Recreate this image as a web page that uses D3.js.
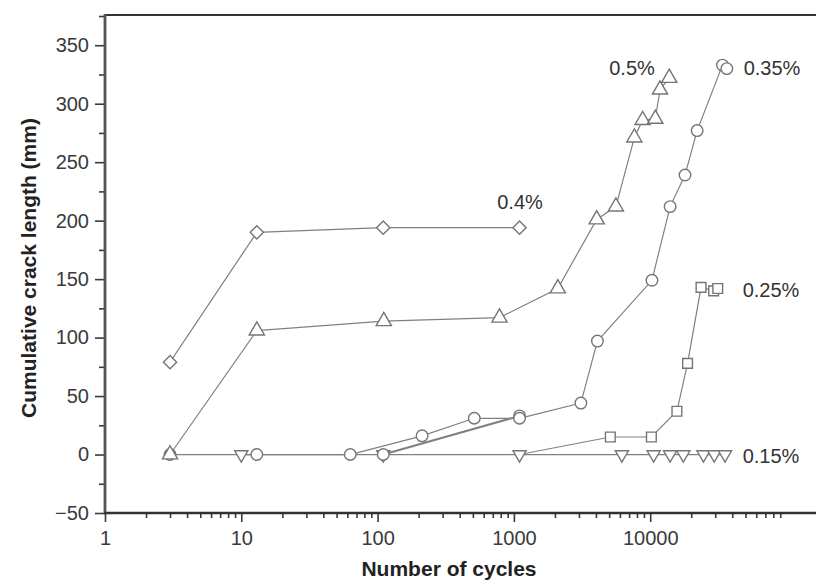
<!DOCTYPE html>
<html><head><meta charset="utf-8">
<script src="https://cdn.jsdelivr.net/npm/d3@7"></script>
<style>body{margin:0;background:#fff}svg{display:block}</style></head>
<body>
<svg id="c" width="816" height="584"></svg>
<script>
// ---- data ----
const strainLabels = ["0.4%", "0.5%", "0.35%", "0.25%", "0.15%"];

const cycles04 = [3, 13, 110, 1100];
const crack04  = [79, 190, 194, 194];

const cycles05 = [3, 13, 111, 784, 2100, 4050, 5600, 7650, 8800, 10900, 11800, 13800];
const crack05  = [0, 106, 114, 117, 142, 201, 212, 271, 286, 287, 312, 322];

const cycles035 = [3, 13, 63, 212, 512, 1100, 3100, 4100, 10300, 14000, 18000, 22100, 33900, 36500];
const crack035  = [0, 0, 0, 16, 31, 31, 44, 97, 149, 212, 239, 277, 333, 330];

const cycles035b = [110, 1100];
const crack035b  = [0, 33];

const cycles025 = [1100, 5100, 10200, 15700, 18800, 23600, 29200, 31300];
const crack025  = [0, 15, 15, 37, 78, 143, 140, 142];

const cycles015 = [10, 110, 1100, 6200, 10600, 14000, 17500, 24600, 29500, 35400];
const crack015  = [0, 0, 0, 0, 0, 0, 0, 0, 0, 0];

const yTickValues = [-50, 0, 50, 100, 150, 200, 250, 300, 350];
const xTickValues = [1, 10, 100, 1000, 10000];

// ---- layout ----
const svg = d3.select("#c");
const X0 = 105, XEND = 816, YTOP = 15;
const x = d3.scaleLog().domain([1, 1e5]).range([X0, X0 + 5 * 136.3]);
const y = d3.scaleLinear().domain([-50, 375]).range([513, 16]);

const lineCol = "#808080", markCol = "#757575", axisCol = "#3a3a3a";
const font = "'Liberation Sans', Arial, sans-serif";

// frame top line
svg.append("line").attr("x1", X0).attr("x2", XEND).attr("y1", YTOP).attr("y2", YTOP)
  .attr("stroke", "#333").attr("stroke-width", 2.2);

// y axis
const yAxis = d3.axisLeft(y).tickValues(yTickValues).tickSize(10).tickPadding(6)
  .tickFormat(d => d < 0 ? "\u2212" + Math.abs(d) : d);
const gy = svg.append("g").attr("transform", `translate(${X0},0)`).call(yAxis);
gy.select(".domain").remove();
gy.selectAll(".tick line").attr("stroke", axisCol).attr("stroke-width", 1.6);
gy.selectAll(".tick text").attr("font-family", font).attr("font-size", 20).attr("fill", "#3a3a3a");
const yMinor = d3.axisLeft(y).tickValues(d3.range(-25, 376, 50)).tickSize(6).tickFormat("");
const gym = svg.append("g").attr("transform", `translate(${X0},0)`).call(yMinor);
gym.select(".domain").remove();
gym.selectAll(".tick line").attr("stroke", axisCol).attr("stroke-width", 1.6);
svg.append("line").attr("x1", X0).attr("x2", X0).attr("y1", YTOP - 1).attr("y2", y(-50) + 1)
  .attr("stroke", "#555").attr("stroke-width", 2.8);

// x axis
const xAxis = d3.axisBottom(x).tickValues(xTickValues).tickSize(9).tickPadding(9)
  .tickFormat(d3.format("d"));
const gx = svg.append("g").attr("transform", `translate(0,${y(-50)})`).call(xAxis);
gx.select(".domain").remove();
gx.selectAll(".tick line").attr("stroke", axisCol).attr("stroke-width", 1.6);
gx.selectAll(".tick text").attr("font-family", font).attr("font-size", 20).attr("fill", "#3a3a3a");
const minorX = [];
for (let e = 0; e < 5; e++) for (let k = 2; k <= 9; k++) minorX.push(k * Math.pow(10, e));
const gxm = svg.append("g").attr("transform", `translate(0,${y(-50)})`)
  .call(d3.axisBottom(x).tickValues(minorX).tickSize(5).tickFormat(""));
gxm.select(".domain").remove();
gxm.selectAll(".tick line").attr("stroke", axisCol).attr("stroke-width", 1.6);
svg.append("line").attr("x1", X0 - 1).attr("x2", XEND).attr("y1", y(-50)).attr("y2", y(-50))
  .attr("stroke", "#333").attr("stroke-width", 2.4);

// axis titles
svg.append("text").attr("x", 449).attr("y", 576).attr("text-anchor", "middle")
  .attr("font-family", font).attr("font-weight", "bold").attr("font-size", 21).attr("fill", "#222")
  .text("Number of cycles");
svg.append("text").attr("transform", "translate(36,268) rotate(-90)").attr("text-anchor", "middle")
  .attr("font-family", font).attr("font-weight", "bold").attr("font-size", 21).attr("fill", "#222")
  .text("Cumulative crack length (mm)");

// series
const zip = (a, b) => a.map((v, i) => [v, b[i]]);
const series = [
  { pts: zip(cycles015, crack015), shape: "tri-down", from: 0, width: 1.2 },
  { pts: zip(cycles025, crack025), shape: "square", from: 1, width: 1.2 },
  { pts: zip(cycles035b, crack035b), shape: "circle", from: 0, width: 2.0 },
  { pts: zip(cycles035, crack035), shape: "circle", from: 0, width: 1.2 },
  { pts: zip(cycles05, crack05), shape: "tri-up", from: 0, width: 1.2 },
  { pts: zip(cycles04, crack04), shape: "diamond", from: 0, width: 1.2 }
];
const line = d3.line().x(d => x(d[0])).y(d => y(d[1]));
series.forEach(s => {
  svg.append("path").datum(s.pts).attr("d", line).attr("fill", "none")
    .attr("stroke", lineCol).attr("stroke-width", s.width);
});
const symbolFor = {
  "circle": d3.symbol().type(d3.symbolCircle).size(105),
  "square": d3.symbol().type(d3.symbolSquare).size(95),
  "diamond": d3.symbol().type(d3.symbolSquare).size(88),
  "tri-up": d3.symbol().type(d3.symbolTriangle).size(100),
  "tri-down": d3.symbol().type(d3.symbolTriangle).size(75)
};
series.forEach(s => {
  const rot = s.shape === "diamond" ? 45 : s.shape === "tri-down" ? 180 : 0;
  svg.append("g").selectAll("path").data(s.pts.slice(s.from)).join("path")
    .attr("d", symbolFor[s.shape]())
    .attr("transform", d => `translate(${x(d[0])},${y(d[1])}) rotate(${rot})`)
    .attr("fill", "#fff").attr("stroke", markCol).attr("stroke-width", 1.4);
});

// series labels
const labelPos = [[520, 209], [632, 75], [772, 75], [771, 297], [771, 463]];
strainLabels.forEach((t, i) => {
  svg.append("text").attr("x", labelPos[i][0]).attr("y", labelPos[i][1]).attr("text-anchor", "middle")
    .attr("font-family", font).attr("font-size", 20).attr("fill", "#333").text(t);
});
</script>
</body></html>
